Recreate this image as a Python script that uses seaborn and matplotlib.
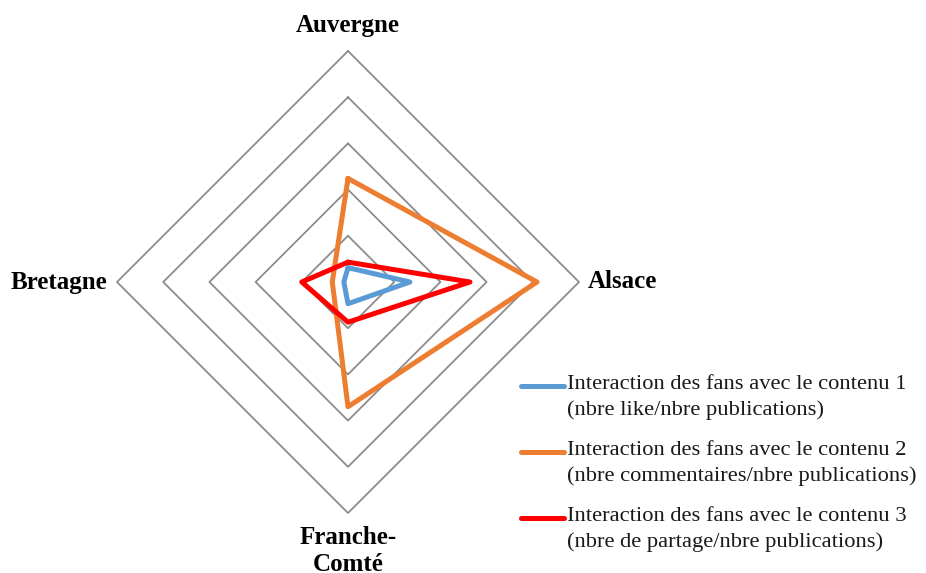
import numpy as np
import pandas as pd
import seaborn as sns
import matplotlib.pyplot as plt
from matplotlib.lines import Line2D

# ---- data (in gridline units) ----
regions = ["Auvergne", "Alsace", "Franche-Comté", "Bretagne"]
contenu1 = [0.31, 1.34, 0.47, 0.09]
contenu2 = [2.24, 4.09, 2.70, 0.34]
contenu3 = [0.43, 2.64, 0.87, 1.00]
series_labels = [
    "Interaction des fans avec le contenu 1\n(nbre like/nbre publications)",
    "Interaction des fans avec le contenu 2\n(nbre commentaires/nbre publications)",
    "Interaction des fans avec le contenu 3\n(nbre de partage/nbre publications)",
]
grid_levels = [1, 2, 3, 4, 5]

colors = ["#5B9BD5", "#ED7D31", "#FF0000"]

sns.set_theme(style="white")
plt.rcParams["font.family"] = ["Liberation Serif", "DejaVu Serif"]

n = len(regions)
angles = np.linspace(0, 2 * np.pi, n, endpoint=False)
angles_closed = np.append(angles, 2 * np.pi)

rows = []
for lab, vals in zip(series_labels, [contenu1, contenu2, contenu3]):
    vals_c = list(vals) + [vals[0]]
    for k, (t, r) in enumerate(zip(angles_closed, vals_c)):
        rows.append({"series": lab, "theta": t, "r": r, "order": k})
df = pd.DataFrame(rows)

W, H = 926, 573
fig = plt.figure(figsize=(W / 100, H / 100), dpi=100)
cx, cy, R = 348, 282, 231
ax = fig.add_axes([(cx - R) / W, (H - cy - R) / H, 2 * R / W, 2 * R / H], projection="polar")
ax.set_theta_offset(np.pi / 2)
ax.set_theta_direction(-1)
ax.set_ylim(0, 5)
ax.grid(False)
ax.spines["polar"].set_visible(False)
ax.set_xticks([])
ax.set_yticks([])
ax.set_facecolor("none")

# diamond gridlines
for lv in grid_levels:
    ax.plot(angles_closed, [lv] * (n + 1), color="#8C8C8C", lw=1.3, clip_on=False, zorder=1)

sns.lineplot(data=df, x="theta", y="r", hue="series", sort=False, estimator=None,
             palette=colors, linewidth=3.6, legend=False, ax=ax, zorder=3)
for line in ax.lines:
    line.set_clip_on(False)
ax.set_xlabel("")
ax.set_ylabel("")

lab_kw = dict(fontsize=18, fontweight="bold", color="black", clip_on=False)
ax.text(angles[0], 5.55, regions[0], ha="center", va="center", **lab_kw)
ax.text(angles[1], 5.2, regions[1], ha="left", va="center", **lab_kw)
ax.text(angles[2], 5.28, "Franche-\nComté", ha="center", va="top", linespacing=1.2, **lab_kw)
ax.text(angles[3], 5.2, regions[3], ha="right", va="center", **lab_kw)

# manual legend
leg_y = [386, 452, 518]
for yy, lab, c in zip(leg_y, series_labels, colors):
    fig.add_artist(Line2D([521 / W, 564 / W], [(H - yy) / H] * 2, color=c, lw=3.6,
                          transform=fig.transFigure))
    fig.text(567 / W, (H - yy + 11) / H, lab, ha="left", va="top", fontsize=16.2,
             linespacing=1.42, color="#1a1a1a")

fig.savefig("out.png", dpi=100)
